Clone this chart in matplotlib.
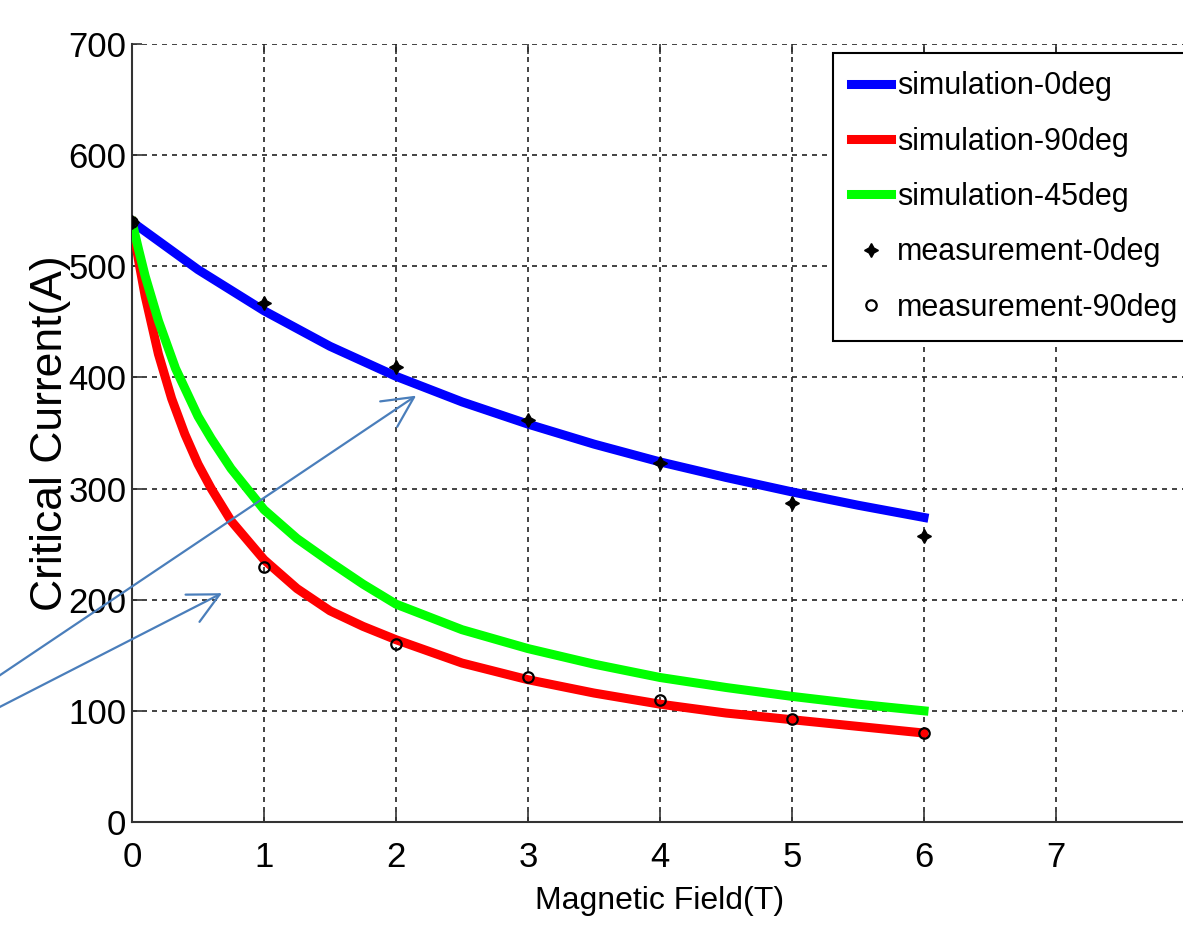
import matplotlib
matplotlib.use('Agg')
import matplotlib.pyplot as plt

# simulation curves, values
b_sim0 = [0, 0.5, 1, 1.5, 2, 2.5, 3, 3.5, 4, 4.5, 5, 5.5, 6]
ic_sim0 = [540, 497, 460, 428, 401, 378, 358, 340, 324, 310, 297, 285, 274]

b_sim90 = [0, 0.05, 0.1, 0.2, 0.3, 0.4, 0.5, 0.6, 0.75, 1, 1.25, 1.5, 1.75, 2, 2.5, 3, 3.5, 4, 4.5, 5, 5.5, 6]
ic_sim90 = [540, 505, 473, 421, 381, 349, 322, 300, 271, 236, 210, 190, 176, 164, 143, 128, 116, 106, 98, 92, 86, 80]

b_sim45 = [0, 0.05, 0.1, 0.2, 0.33, 0.5, 0.6, 0.75, 1, 1.25, 1.5, 1.75, 2, 2.5, 3, 3.5, 4, 4.5, 5, 5.5, 6]
ic_sim45 = [540, 515, 491, 451, 408, 365, 345, 318, 281, 255, 234, 214, 196, 173, 156, 142, 130, 121, 113, 106, 100]

# measurements
b_meas = [0, 1, 2, 3, 4, 5, 6]
ic_meas0 = [540, 467, 409, 362, 323, 287, 257]
ic_meas90 = [540, 229, 160, 130, 110, 93, 80]

x_ticks = [0, 1, 2, 3, 4, 5, 6, 7]
y_ticks = [0, 100, 200, 300, 400, 500, 600, 700]

plt.rcParams['font.family'] = ['Liberation Sans', 'DejaVu Sans']

fig = plt.figure(figsize=(11.83, 9.35), dpi=100)
ax = fig.add_axes([0.1116, 0.1209, 0.8926, 0.832])

ax.plot(b_sim0, ic_sim0, color='#0000ff', linewidth=6.5, label='simulation-0deg', zorder=3)
ax.plot(b_sim90, ic_sim90, color='#ff0000', linewidth=6.5, label='simulation-90deg', zorder=3)
ax.plot(b_sim45, ic_sim45, color='#00ff00', linewidth=6.5, label='simulation-45deg', zorder=3)
ax.plot(b_meas, ic_meas0, linestyle='none', marker=(4, 1, 0), markersize=10,
        color='black', label='measurement-0deg', zorder=4)
ax.plot(b_meas, ic_meas90, linestyle='none', marker='o', markersize=7.5,
        markerfacecolor='none', markeredgecolor='black', markeredgewidth=1.6,
        label='measurement-90deg', zorder=4)

ax.set_xlim(0, 8)
ax.set_ylim(0, 700)
ax.set_xticks(x_ticks)
ax.set_yticks(y_ticks)
ax.grid(True, color='#222222', linestyle=(0, (3, 3)), linewidth=1.2)
ax.set_axisbelow(True)

for side in ['top', 'right']:
    ax.spines[side].set_visible(False)
for side in ['left', 'bottom']:
    ax.spines[side].set_color('#333333')
    ax.spines[side].set_linewidth(1.5)
ax.tick_params(direction='in', length=7, width=1.2, color='#333333',
               labelsize=25, top=True)
ax.tick_params(axis='x', pad=14)
ax.tick_params(axis='y', pad=4)

ax.set_xlabel('Magnetic Field(T)', fontsize=23)
ax.xaxis.set_label_coords(0.5, -0.082)
ax.set_ylabel('Critical Current(A)', fontsize=32)
ax.yaxis.set_label_coords(-0.058, 0.5)

leg = ax.legend(loc='upper left', bbox_to_anchor=(833 / 1183, 1 - 53 / 935),
                bbox_transform=fig.transFigure, fontsize=22, frameon=True,
                fancybox=False, framealpha=1, edgecolor='black', borderaxespad=0,
                handlelength=1.3, handletextpad=0.2, labelspacing=0.83,
                borderpad=0.6)
leg.get_frame().set_linewidth(1.5)

arrow_style = dict(arrowstyle='->,head_length=1.0,head_width=0.5', color='#4a7ebb',
                   linewidth=1.6, mutation_scale=22)
ax.annotate('', xy=(2.17, 385), xycoords='data', xytext=(-0.03, 1 - 699 / 935),
            textcoords='figure fraction', arrowprops=arrow_style, annotation_clip=False)
ax.annotate('', xy=(0.70, 207), xycoords='data', xytext=(-0.03, 1 - 725 / 935),
            textcoords='figure fraction', arrowprops=arrow_style, annotation_clip=False)

fig.savefig('out.png', dpi=100)
